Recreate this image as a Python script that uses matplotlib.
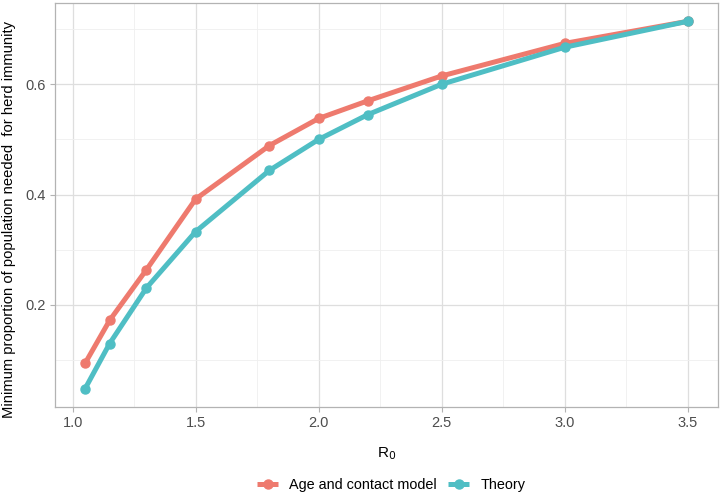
import matplotlib
matplotlib.use("Agg")
import matplotlib.pyplot as plt
from matplotlib.ticker import MultipleLocator, FixedLocator

plt.rcParams['font.family'] = ['Liberation Sans', 'DejaVu Sans']

r0 = [1.05, 1.15, 1.3, 1.5, 1.8, 2.0, 2.2, 2.5, 3.0, 3.5]
age_contact = [0.094, 0.172, 0.264, 0.392, 0.489, 0.538, 0.570, 0.615, 0.674, 0.714]
theory = [0.048, 0.130, 0.231, 0.333, 0.444, 0.500, 0.545, 0.600, 0.667, 0.714]
series_names = ["Age and contact model", "Theory"]
colors = ["#EE7A6E", "#4FBEC4"]

fig = plt.figure(figsize=(7.22, 4.96), dpi=100)
ax = fig.add_axes([0.076, 0.179, 0.918, 0.815])

for vals, name, c in zip([age_contact, theory], series_names, colors):
    ax.plot(r0, vals, color=c, lw=3.6, marker='o', ms=6.5, label=name,
            solid_capstyle='butt', zorder=3)

xr = max(r0) - min(r0)
ax.set_xlim(min(r0) - 0.05 * xr, max(r0) + 0.05 * xr)
ally = age_contact + theory
yr = max(ally) - min(ally)
ax.set_ylim(min(ally) - 0.05 * yr, max(ally) + 0.05 * yr)

ax.xaxis.set_major_locator(MultipleLocator(0.5))
ax.xaxis.set_minor_locator(FixedLocator([1.25, 1.75, 2.25, 2.75, 3.25]))
ax.yaxis.set_major_locator(FixedLocator([0.2, 0.4, 0.6]))
ax.yaxis.set_minor_locator(FixedLocator([0.1, 0.3, 0.5, 0.7]))
ax.set_yticklabels(["0.2", "0.4", "0.6"])

ax.grid(which='major', color='#DEDEDE', lw=0.9, zorder=0)
ax.grid(which='minor', color='#EFEFEF', lw=0.6, zorder=0)
ax.set_axisbelow(True)
for s in ax.spines.values():
    s.set_color('#B3B3B3')
    s.set_linewidth(0.9)
ax.tick_params(which='major', length=3.5, color='#B3B3B3', labelsize=10.5,
               labelcolor='#4D4D4D', pad=3)
ax.tick_params(which='minor', length=0)

ax.set_xlabel("R$_0$", fontsize=11, labelpad=11)
ax.set_ylabel("Minimum proportion of population needed  for herd immunity",
              fontsize=10.6)
ax.yaxis.set_label_coords(-0.058, 0.465)

leg = fig.legend(loc='center', bbox_to_anchor=(0.5416, 0.022), ncol=2, frameon=False,
                 fontsize=10.4, handlelength=1.5, columnspacing=0.75, handletextpad=0.75)

fig.savefig("out.png", dpi=100)
